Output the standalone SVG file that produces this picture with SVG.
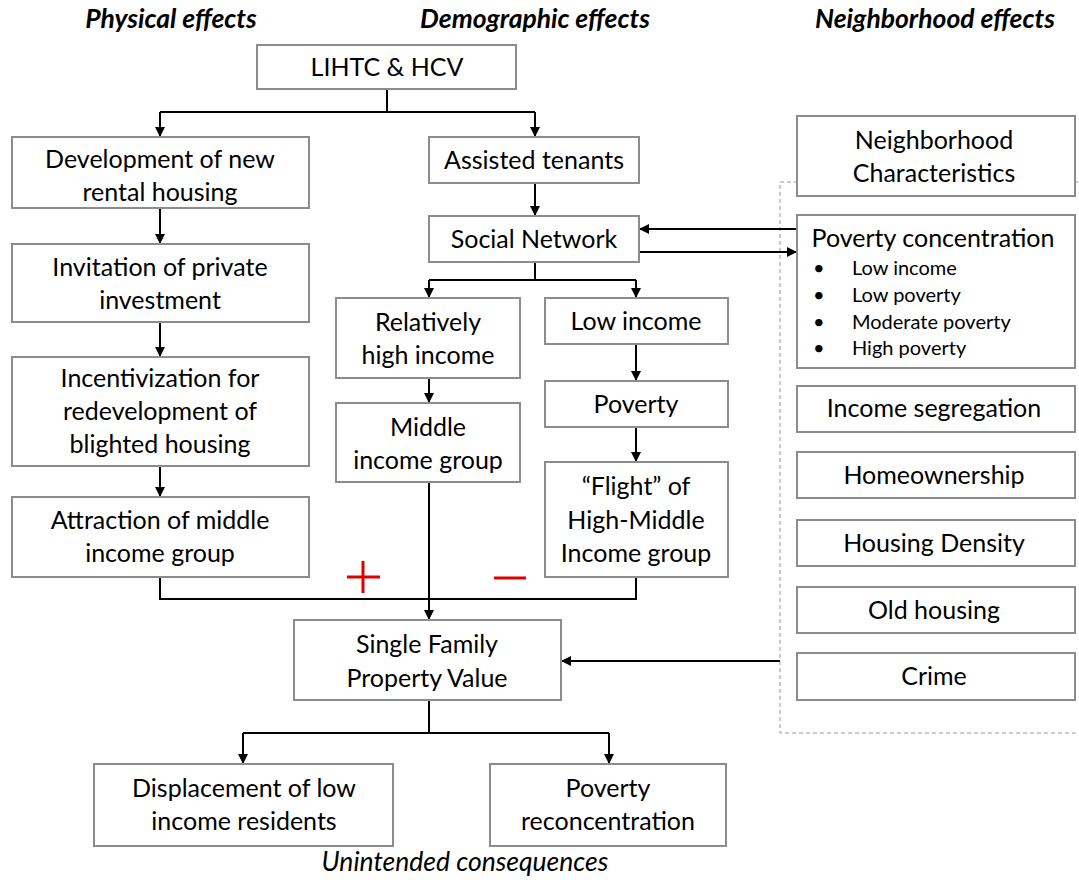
<svg xmlns="http://www.w3.org/2000/svg" width="1079" height="880" viewBox="0 0 1079 880">
<defs>
<marker id="ah" viewBox="0 0 10 10" refX="10" refY="5" markerWidth="10" markerHeight="10" markerUnits="userSpaceOnUse" orient="auto">
<path d="M0,0 L10,5 L0,10 z" fill="#000"/>
</marker>
<style>
.box{fill:#fff;stroke:#8c8c8c;stroke-width:2}
.t{font-family:Lato,"Liberation Sans",sans-serif;font-size:25px;fill:#000;text-anchor:middle}
.s{font-family:Lato,"Liberation Sans",sans-serif;font-size:20px;fill:#000}
.h{font-family:Lato,"Liberation Sans",sans-serif;font-size:26.5px;font-weight:bold;font-style:italic;fill:#000;text-anchor:middle}
.c{fill:none;stroke:#000;stroke-width:2}
.a{fill:none;stroke:#000;stroke-width:2;marker-end:url(#ah)}
</style>
</defs>
<rect width="1079" height="880" fill="#fff"/>
<text class="h" x="171" y="28">Physical effects</text>
<text class="h" x="535" y="28">Demographic effects</text>
<text class="h" x="935" y="28">Neighborhood effects</text>
<rect x="780" y="182" width="310" height="551" fill="none" stroke="#999" stroke-width="1" stroke-dasharray="4,3"/>
<g id="connectors">
<path class="c" d="M387,89 V112 M160,112 H535"/>
<path class="a" d="M160,112 V137"/>
<path class="a" d="M535,112 V137"/>
<path class="a" d="M535,183 V216"/>
<path class="a" d="M797,229 H639"/>
<path class="a" d="M639,252 H797"/>
<path class="c" d="M535,262 V280 M429,280 H636"/>
<path class="a" d="M429,280 V298"/>
<path class="a" d="M636,280 V298"/>
<path class="a" d="M429,378 V403"/>
<path class="a" d="M636,344 V381"/>
<path class="a" d="M636,427 V462"/>
<path class="a" d="M160,208 V244"/>
<path class="a" d="M160,322 V357"/>
<path class="a" d="M160,466 V497"/>
<path class="c" d="M160,577 V599 H636 V577"/>
<path class="a" d="M429,482 V620"/>
<path class="a" d="M780,661 H561"/>
<path class="c" d="M429,700 V733 M243,733 H609"/>
<path class="a" d="M243,733 V764"/>
<path class="a" d="M609,733 V764"/>
</g>
<g id="lihtc"><rect class="box" x="257" y="45" width="259" height="44"/><text class="t" x="387" y="76">LIHTC &amp; HCV</text></g>
<g id="dev"><rect class="box" x="12" y="137" width="297" height="71"/><text class="t" x="160" y="168">Development of new</text><text class="t" x="160" y="201">rental housing</text></g>
<g id="inv"><rect class="box" x="12" y="244" width="297" height="78"/><text class="t" x="160" y="276">Invitation of private</text><text class="t" x="160" y="309">investment</text></g>
<g id="inc"><rect class="box" x="12" y="357" width="297" height="109"/><text class="t" x="160" y="387">Incentivization for</text><text class="t" x="160" y="420">redevelopment of</text><text class="t" x="160" y="453">blighted housing</text></g>
<g id="attr"><rect class="box" x="12" y="497" width="297" height="80"/><text class="t" x="160" y="529">Attraction of middle</text><text class="t" x="160" y="562">income group</text></g>
<g id="assisted"><rect class="box" x="429" y="137" width="210" height="46"/><text class="t" x="534" y="169">Assisted tenants</text></g>
<g id="social"><rect class="box" x="429" y="216" width="210" height="46"/><text class="t" x="534" y="248">Social Network</text></g>
<g id="relhigh"><rect class="box" x="336" y="298" width="184" height="80"/><text class="t" x="428" y="331">Relatively</text><text class="t" x="428" y="364">high income</text></g>
<g id="lowinc"><rect class="box" x="545" y="298" width="183" height="46"/><text class="t" x="636" y="330">Low income</text></g>
<g id="middle"><rect class="box" x="336" y="403" width="184" height="79"/><text class="t" x="428" y="436">Middle</text><text class="t" x="428" y="469">income group</text></g>
<g id="poverty"><rect class="box" x="545" y="381" width="183" height="46"/><text class="t" x="636" y="413">Poverty</text></g>
<g id="flight"><rect class="box" x="545" y="462" width="183" height="115"/><text class="t" x="636" y="495">“Flight” of</text><text class="t" x="636" y="529">High-Middle</text><text class="t" x="636" y="562">Income group</text></g>
<g id="signs"><path d="M347,577 H380 M363,561 V593" stroke="#e00000" stroke-width="3" fill="none"/><path d="M494,578 H526" stroke="#e00000" stroke-width="3" fill="none"/></g>
<g id="sfpv"><rect class="box" x="294" y="620" width="267" height="80"/><text class="t" x="427" y="653">Single Family</text><text class="t" x="427" y="687">Property Value</text></g>
<g id="displace"><rect class="box" x="94" y="764" width="299" height="82"/><text class="t" x="244" y="797">Displacement of low</text><text class="t" x="244" y="830">income residents</text></g>
<g id="reconc"><rect class="box" x="490" y="764" width="236" height="82"/><text class="t" x="608" y="797">Poverty</text><text class="t" x="608" y="830">reconcentration</text></g>
<text x="465" y="871" font-family="Lato,'Liberation Sans',sans-serif" font-size="26.5" font-style="italic" fill="#000" text-anchor="middle">Unintended consequences</text>
<g id="nchar"><rect class="box" x="797" y="116" width="278" height="80"/><text class="t" x="934" y="149">Neighborhood</text><text class="t" x="934" y="182">Characteristics</text></g>
<g id="povconc"><rect class="box" x="797" y="215" width="278" height="153"/><text class="t" x="933" y="247">Poverty concentration</text>
<text class="s" x="813" y="275">•</text><text class="s" x="852" y="275">Low income</text>
<text class="s" x="813" y="302">•</text><text class="s" x="852" y="302">Low poverty</text>
<text class="s" x="813" y="329">•</text><text class="s" x="852" y="329">Moderate poverty</text>
<text class="s" x="813" y="355">•</text><text class="s" x="852" y="355">High poverty</text></g>
<g id="seg"><rect class="box" x="797" y="386" width="278" height="46"/><text class="t" x="934" y="417">Income segregation</text></g>
<g id="home"><rect class="box" x="797" y="452" width="278" height="46"/><text class="t" x="934" y="484">Homeownership</text></g>
<g id="dens"><rect class="box" x="797" y="520" width="278" height="46"/><text class="t" x="934" y="552">Housing Density</text></g>
<g id="old"><rect class="box" x="797" y="587" width="278" height="46"/><text class="t" x="934" y="619">Old housing</text></g>
<g id="crime"><rect class="box" x="797" y="653" width="278" height="47"/><text class="t" x="934" y="685">Crime</text></g>
</svg>
